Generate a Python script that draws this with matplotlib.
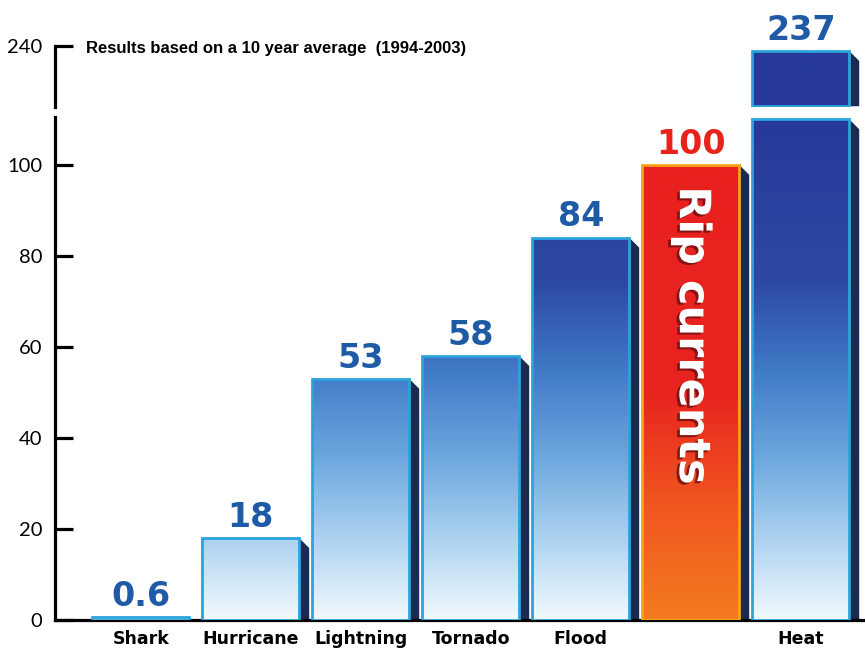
import numpy as np
import matplotlib
matplotlib.use('Agg')
import matplotlib.pyplot as plt
import matplotlib.patheffects as pe
from matplotlib.colors import LinearSegmentedColormap
from matplotlib.patches import Rectangle, Polygon

# data
causes = ['Shark', 'Hurricane', 'Lightning', 'Tornado', 'Flood', 'Rip currents', 'Heat']
tick_names = ['Shark', 'Hurricane', 'Lightning', 'Tornado', 'Flood', '', 'Heat']
deaths = [0.6, 18, 53, 58, 84, 100, 237]
value_labels = ['0.6', '18', '53', '58', '84', '100', '237']
lower_ticks = [0, 20, 40, 60, 80, 100]
upper_ticks = [240]

LOW_TOP = 110.5
UP_LIM = (199.5, 241)

blue_cmap = LinearSegmentedColormap.from_list('blu', [
    (0.0, '#f2f9fe'), (0.14, '#b5d8f2'), (0.32, '#6ea8df'),
    (0.50, '#4079c6'), (0.68, '#2c48a2'), (1.0, '#27399a')])
red_cmap = LinearSegmentedColormap.from_list('red', [
    (0.0, '#f47b20'), (0.25, '#f0561f'), (0.5, '#e8241f'), (1.0, '#e8211f')])

EDGE_BLUE = '#2aa4dc'
EDGE_ORANGE = '#f7a21b'
SHADOW = '#1a2b4f'
LABEL_BLUE = '#1f5aa6'
LABEL_RED = '#e8231c'

fig = plt.figure(figsize=(8.65, 6.48), dpi=100)
ax = fig.add_axes([55 / 865, 28 / 648, 810 / 865, 503 / 648])
ax_up = fig.add_axes([55 / 865, (648 - 107) / 648, 810 / 865, 62 / 648])

xlim = (-0.78, -0.78 + 810 / 110)
width = 0.88


def draw_bar(a, x, y0, y1, cmap, vmax, edge, px_x, px_y):
    x0, x1 = x - width / 2, x + width / 2
    # 3d side shadow
    dx, dy = 10 / px_x, 10 / px_y
    a.add_patch(Polygon([(x1, y1), (x1 + dx, y1 - dy), (x1 + dx, y0), (x1, y0)],
                        closed=True, facecolor=SHADOW, edgecolor='none', zorder=2))
    grad = np.linspace(y0, y1, 256)[:, None]
    im = a.imshow(grad, extent=[x0, x1, y0, y1], origin='lower', aspect='auto',
                  cmap=cmap, vmin=0, vmax=vmax, zorder=3)
    rect = Rectangle((x0, y0), width, y1 - y0, facecolor='none',
                     edgecolor=edge, linewidth=2.0, zorder=4)
    a.add_patch(rect)
    im.set_clip_path(rect)


for a, lim in [(ax, (0, LOW_TOP)), (ax_up, UP_LIM)]:
    a.set_xlim(*xlim)
    a.set_ylim(*lim)
    for s in ['top', 'right']:
        a.spines[s].set_visible(False)
    a.spines['left'].set_linewidth(2.3)
    a.tick_params(axis='y', direction='in', length=13, width=2.3, pad=9,
                  labelsize=14.5, colors='black')
    a.tick_params(axis='x', length=0)

ax_up.spines['bottom'].set_visible(False)
ax_up.spines['left'].set_bounds(UP_LIM[0], 240)
ax_up.set_xticks([])
ax_up.set_yticks(upper_ticks)
ax.set_yticks(lower_ticks)
for a in (ax, ax_up):
    for t in a.get_yticklabels():
        t.set_family('Lato')
ax.spines['bottom'].set_linewidth(2.3)
ax.set_xticks(range(len(causes)))
ax.set_xticklabels(tick_names, fontsize=12.5, fontweight='bold', family='DejaVu Sans')
ax.tick_params(axis='x', pad=7)

px_x = 110
px_y_low = 503 / LOW_TOP
px_y_up = 62 / (UP_LIM[1] - UP_LIM[0])

for i, (name, v, lab) in enumerate(zip(causes, deaths, value_labels)):
    if name == 'Rip currents':
        draw_bar(ax, i, 0, v, red_cmap, 100, EDGE_ORANGE, px_x, px_y_low)
        color = LABEL_RED
    elif v > LOW_TOP:
        draw_bar(ax, i, 0, LOW_TOP - 0.5, blue_cmap, 110, EDGE_BLUE, px_x, px_y_low)
        draw_bar(ax_up, i, UP_LIM[0] + 0.5, v, blue_cmap, 110, EDGE_BLUE, px_x, px_y_up)
        color = LABEL_BLUE
    else:
        draw_bar(ax, i, 0, v, blue_cmap, 110, EDGE_BLUE, px_x, px_y_low)
        color = LABEL_BLUE
    target = ax_up if v > LOW_TOP else ax
    target.annotate(lab, (i, v), xytext=(0, 3), textcoords='offset points',
                    ha='center', va='bottom', fontsize=24, fontweight='bold',
                    color=color, family='DejaVu Sans', zorder=6, annotation_clip=False)

# vertical label inside the rip current bar
rip = causes.index('Rip currents')
ax.text(rip + 0.01, 62.5, 'Rip currents', rotation=-90, ha='center', va='center',
        fontsize=31, fontweight='bold', color='white', family='DejaVu Sans', zorder=7,
        path_effects=[pe.SimplePatchShadow(offset=(-2, -1.5), shadow_rgbFace='#6b1010', alpha=0.8),
                      pe.Normal()])

fig.text(86 / 865, (648 - 48) / 648, 'Results based on a 10 year average  (1994-2003)',
         ha='left', va='center', fontsize=12, fontweight='bold', family='Liberation Sans')

fig.savefig('out.png', dpi=100)
